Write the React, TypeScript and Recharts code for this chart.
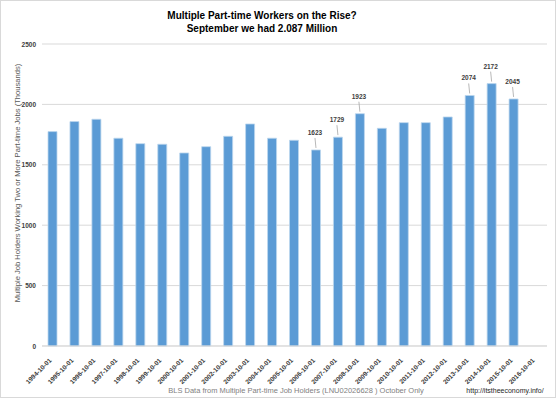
import React from "react";
import {
  BarChart,
  Bar,
  XAxis,
  YAxis,
  CartesianGrid,
  LabelList,
} from "recharts";

const years = [
  "1994-10-01", "1995-10-01", "1996-10-01", "1997-10-01", "1998-10-01",
  "1999-10-01", "2000-10-01", "2001-10-01", "2002-10-01", "2003-10-01",
  "2004-10-01", "2005-10-01", "2006-10-01", "2007-10-01", "2008-10-01",
  "2009-10-01", "2010-10-01", "2011-10-01", "2012-10-01", "2013-10-01",
  "2014-10-01", "2015-10-01", "2016-10-01",
];

// October values, thousands (2016 not out yet)
const holders: (number | null)[] = [
  1775, 1858, 1877, 1720, 1675, 1670, 1598, 1650, 1736, 1838,
  1720, 1703, 1623, 1729, 1923, 1802, 1849, 1849, 1896, 2074,
  2172, 2045, null,
];

const labeledYears = [
  "2006-10-01", "2007-10-01", "2008-10-01",
  "2013-10-01", "2014-10-01", "2015-10-01",
];

const yTicks = [0, 500, 1000, 1500, 2000, 2500];

const data = years.map((year, i) => ({ year, value: holders[i] }));

const FONT = "'Liberation Sans', Arial, sans-serif";

const YTick = (props: any) => {
  const { x, y, payload } = props;
  return (
    <text x={x + 2} y={y} dy={2.5} textAnchor="end" fontSize={6.5} fontWeight="bold" fill="#404040" fontFamily={FONT}>
      {payload.value}
    </text>
  );
};

const XTick = (props: any) => {
  const { x, y, payload } = props;
  return (
    <g transform={`translate(${x - 1},${y + 7})`}>
      <text textAnchor="end" transform="rotate(-45)" fontSize={6.5} fontWeight="bold" fill="#404040" fontFamily={FONT}>
        {payload.value}
      </text>
    </g>
  );
};

const ValueLabel = (props: any) => {
  const { x, y, width, value, index } = props;
  if (value == null || !labeledYears.includes(years[index])) return null;
  const cx = x + width / 2;
  return (
    <g>
      <line x1={cx} y1={y - 2} x2={cx - 1} y2={y - 12} stroke="#a6a6a6" strokeWidth={0.8} />
      <text x={cx - 1} y={y - 15} textAnchor="middle" fontSize={6.5} fontWeight="bold" fill="#404040" fontFamily={FONT}>
        {value}
      </text>
    </g>
  );
};

export default function App() {
  return (
    <div
      style={{
        position: "absolute",
        left: 0,
        top: 0,
        width: 556,
        height: 398,
        boxSizing: "border-box",
        border: "1px solid #d9d9d9",
        background: "#fff",
        fontFamily: FONT,
      }}
    >
      <div
        style={{
          position: "absolute",
          left: 0,
          width: 522,
          top: 8,
          textAlign: "center",
          fontSize: 10,
          fontWeight: "bold",
          lineHeight: "13px",
          color: "#000",
        }}
      >
        Multiple Part-time Workers on the Rise?
        <br />
        September we had 2.087 Million
      </div>
      <BarChart
        width={554}
        height={396}
        data={data}
        margin={{ top: 43, right: 8, bottom: 0, left: 0 }}
        barCategoryGap="0%"
      >
        <CartesianGrid vertical={false} stroke="#d9d9d9" />
        <XAxis
          dataKey="year"
          interval={0}
          height={51}
          tickLine={false}
          axisLine={{ stroke: "#d9d9d9" }}
          tick={<XTick />}
        />
        <YAxis
          domain={[0, 2500]}
          ticks={yTicks}
          width={41}
          tickLine={false}
          axisLine={false}
          tick={<YTick />}
        />
        <Bar
          dataKey="value"
          fill="#5B9BD5"
          stroke="#BDD7EE"
          strokeWidth={0.8}
          barSize={9}
          isAnimationActive={false}
        >
          <LabelList dataKey="value" content={<ValueLabel />} />
        </Bar>
      </BarChart>
      <div
        style={{
          position: "absolute",
          left: 16,
          top: 182,
          transform: "translate(-50%, -50%) rotate(-90deg)",
          whiteSpace: "nowrap",
          fontSize: 7.6,
          color: "#595959",
        }}
      >
        Multiple Job Holders Working Two or More Part-time Jobs (Thousands)
      </div>
      <div
        style={{
          position: "absolute",
          left: 295,
          top: 389,
          transform: "translate(-50%, -50%)",
          whiteSpace: "nowrap",
          fontSize: 7.5,
          color: "#7f7f7f",
        }}
      >
        BLS Data from Multiple Part-time Job Holders (LNU02026628 ) October Only
      </div>
      <div
        style={{
          position: "absolute",
          left: 504,
          top: 389,
          transform: "translate(-50%, -50%)",
          whiteSpace: "nowrap",
          fontSize: 7,
          color: "#262626",
        }}
      >
        http://itstheeconomy.info/
      </div>
    </div>
  );
}
